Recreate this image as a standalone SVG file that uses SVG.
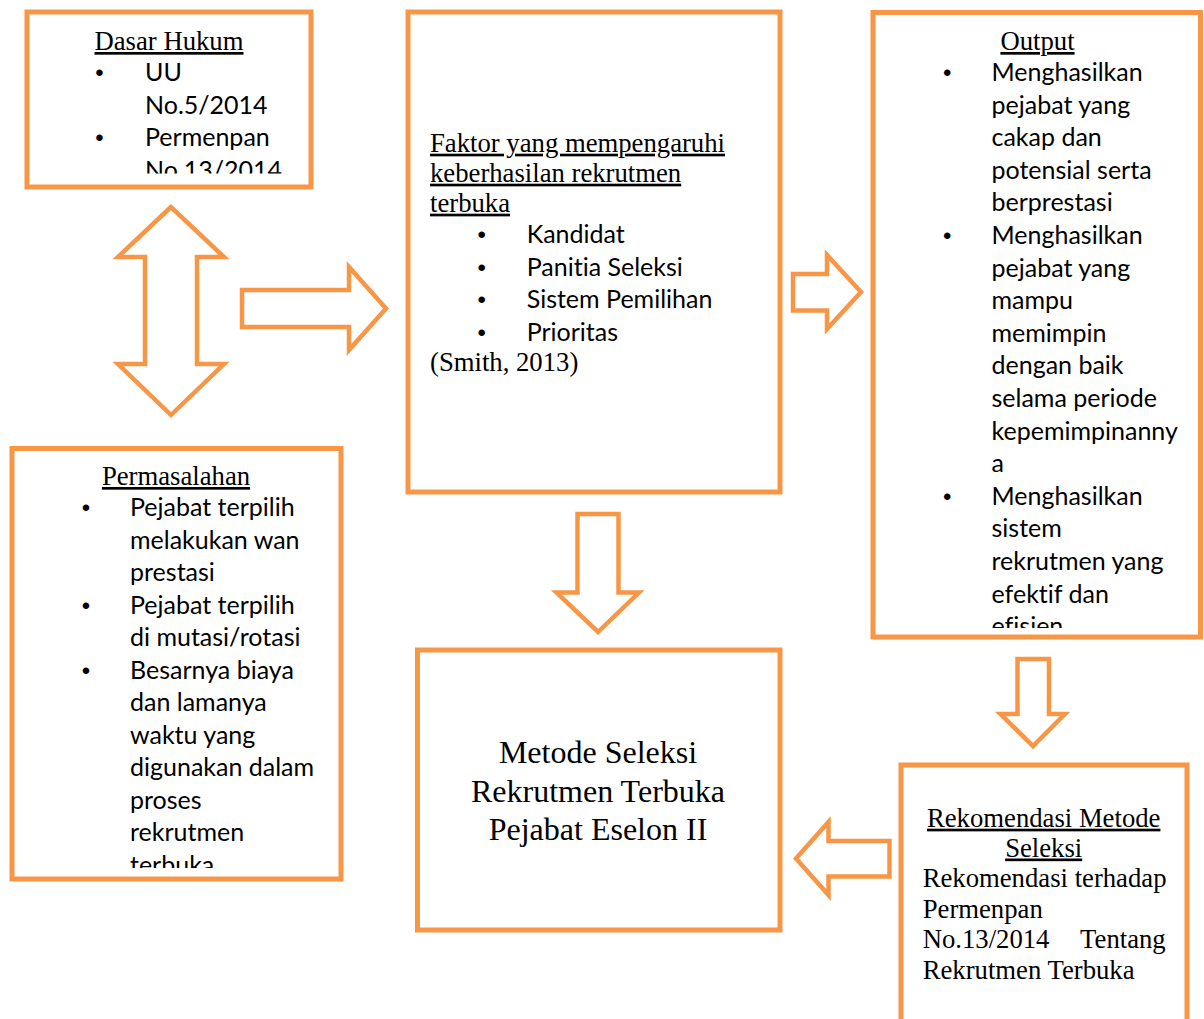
<svg xmlns="http://www.w3.org/2000/svg" width="1204" height="1019" viewBox="0 0 1204 1019">
  <style>
    .box { fill: #ffffff; stroke: #F79646; stroke-width: 5; }
    .arrow { fill: #ffffff; stroke: #F79646; stroke-width: 4.5; stroke-linejoin: miter; }
    .serif { font-family: "Liberation Serif", "Times New Roman", serif; font-size: 26.7px; fill: #000000; }
    .big { font-family: "Liberation Serif", "Times New Roman", serif; font-size: 32px; fill: #000000; }
    .sans { font-family: Lato, "Noto Sans", sans-serif; font-size: 25px; fill: #000000; font-variant-ligatures: none; font-feature-settings: "liga" 0, "clig" 0; }
    .dot { font-family: "Liberation Sans", Arial, sans-serif; font-size: 24px; fill: #000000; }
    .u { text-decoration: underline; }
    .mid { text-anchor: middle; }
    .end { text-anchor: end; }
  </style>
  <defs>
    <clipPath id="clip-dasar"><rect x="30" y="15" width="278" height="158.5"/></clipPath>
    <clipPath id="clip-output"><rect x="876" y="15" width="322" height="613"/></clipPath>
    <clipPath id="clip-masalah"><rect x="15" y="451" width="323" height="417"/></clipPath>
  </defs>

  <rect width="1204" height="1019" fill="#ffffff"/>

  <!-- block arrows between the boxes -->
  <g id="connectors">
    <polygon class="arrow" points="171,207 118,257 145,257 145,364 118,364 171,415 224,364 197,364 197,257 224,257"/>
    <polygon class="arrow" points="242,290 349,290 349,267 386,308.5 349,350 349,327 242,327"/>
    <polygon class="arrow" points="793,274 827,274 827,255 861,292 827,329 827,310.5 793,310.5"/>
    <polygon class="arrow" points="577.5,514 618.5,514 618.5,592.5 639,592.5 598,632 556.5,592.5 577.5,592.5"/>
    <polygon class="arrow" points="1017.5,659 1049,659 1049,714 1065,714 1033,746 1000.5,714 1017.5,714"/>
    <polygon class="arrow" points="889.5,841 828.5,841 828.5,822 796,858.5 828.5,895 828.5,876.5 889.5,876.5"/>
  </g>

  <!-- legal basis -->
  <g id="dasar-hukum">
    <rect class="box" x="27" y="12" width="284" height="175"/>
    <g clip-path="url(#clip-dasar)">
      <text class="serif u mid" x="169" y="50">Dasar Hukum</text>
      <text class="dot mid" x="99.5" y="81">•</text>
      <text class="sans" x="145" y="81">UU</text>
      <text class="sans" x="145" y="113.5">No.5/2014</text>
      <text class="dot mid" x="99.5" y="146">•</text>
      <text class="sans" x="145" y="146">Permenpan</text>
      <text class="sans" x="145" y="178.5">No.13/2014</text>
    </g>
  </g>

  <!-- success factors -->
  <g id="faktor">
    <rect class="box" x="408" y="12" width="372" height="480"/>
    <text class="serif u" x="430" y="151.7">Faktor yang mempengaruhi</text>
    <text class="serif u" x="430" y="181.7">keberhasilan rekrutmen</text>
    <text class="serif u" x="430" y="211.7">terbuka</text>
    <text class="dot mid" x="481.7" y="243.3">•</text>
    <text class="sans" x="526.7" y="243.3">Kandidat</text>
    <text class="dot mid" x="481.7" y="276">•</text>
    <text class="sans" x="526.7" y="276">Panitia Seleksi</text>
    <text class="dot mid" x="481.7" y="308.3">•</text>
    <text class="sans" x="526.7" y="308.3">Sistem Pemilihan</text>
    <text class="dot mid" x="481.7" y="340.8">•</text>
    <text class="sans" x="526.7" y="340.8">Prioritas</text>
    <text class="serif" x="430" y="370.7">(Smith, 2013)</text>
  </g>

  <!-- expected output -->
  <g id="output">
    <rect class="box" x="873" y="12.5" width="327.5" height="624.5"/>
    <g clip-path="url(#clip-output)">
      <text class="serif u mid" x="1037.5" y="50">Output</text>
      <text class="dot mid" x="947.3" y="81">•</text>
      <text class="sans" x="991.5" y="81">Menghasilkan</text>
      <text class="sans" x="991.5" y="113.6">pejabat yang</text>
      <text class="sans" x="991.5" y="146.2">cakap dan</text>
      <text class="sans" x="991.5" y="178.8">potensial serta</text>
      <text class="sans" x="991.5" y="211.4">berprestasi</text>
      <text class="dot mid" x="947.3" y="244">•</text>
      <text class="sans" x="991.5" y="244">Menghasilkan</text>
      <text class="sans" x="991.5" y="276.6">pejabat yang</text>
      <text class="sans" x="991.5" y="309.2">mampu</text>
      <text class="sans" x="991.5" y="341.8">memimpin</text>
      <text class="sans" x="991.5" y="374.4">dengan baik</text>
      <text class="sans" x="991.5" y="407">selama periode</text>
      <text class="sans" x="991.5" y="439.6">kepemimpinanny</text>
      <text class="sans" x="991.5" y="472.2">a</text>
      <text class="dot mid" x="947.3" y="504.8">•</text>
      <text class="sans" x="991.5" y="504.8">Menghasilkan</text>
      <text class="sans" x="991.5" y="537.4">sistem</text>
      <text class="sans" x="991.5" y="570">rekrutmen yang</text>
      <text class="sans" x="991.5" y="602.6">efektif dan</text>
      <text class="sans" x="991.5" y="635.2">efisien</text>
    </g>
  </g>

  <!-- problems -->
  <g id="permasalahan">
    <rect class="box" x="12" y="448.5" width="329" height="430.5"/>
    <g clip-path="url(#clip-masalah)">
      <text class="serif u mid" x="176" y="485">Permasalahan</text>
      <text class="dot mid" x="86" y="516">•</text>
      <text class="sans" x="130" y="516">Pejabat terpilih</text>
      <text class="sans" x="130" y="548.5">melakukan wan</text>
      <text class="sans" x="130" y="581">prestasi</text>
      <text class="dot mid" x="86" y="613.5">•</text>
      <text class="sans" x="130" y="613.5">Pejabat terpilih</text>
      <text class="sans" x="130" y="646">di mutasi/rotasi</text>
      <text class="dot mid" x="86" y="678.5">•</text>
      <text class="sans" x="130" y="678.5">Besarnya biaya</text>
      <text class="sans" x="130" y="711">dan lamanya</text>
      <text class="sans" x="130" y="743.5">waktu yang</text>
      <text class="sans" x="130" y="776">digunakan dalam</text>
      <text class="sans" x="130" y="808.5">proses</text>
      <text class="sans" x="130" y="841">rekrutmen</text>
      <text class="sans" x="130" y="873.5">terbuka</text>
    </g>
  </g>

  <!-- selection method -->
  <g id="metode">
    <rect class="box" x="417.5" y="650" width="362.5" height="280"/>
    <text class="big mid" x="598" y="763.3">Metode Seleksi</text>
    <text class="big mid" x="598" y="801.5">Rekrutmen Terbuka</text>
    <text class="big mid" x="598" y="839.5">Pejabat Eselon II</text>
  </g>

  <!-- recommendation -->
  <g id="rekomendasi">
    <rect class="box" x="901" y="765" width="286" height="300"/>
    <text class="serif u mid" x="1043.7" y="826.7">Rekomendasi Metode</text>
    <text class="serif u mid" x="1043.7" y="856.5">Seleksi</text>
    <text class="serif" x="922.7" y="887.3">Rekomendasi terhadap</text>
    <text class="serif" x="922.7" y="917.8">Permenpan</text>
    <text class="serif" x="922.7" y="948">No.13/2014</text>
    <text class="serif end" x="1165.7" y="948">Tentang</text>
    <text class="serif" x="922.7" y="978.5">Rekrutmen Terbuka</text>
  </g>
</svg>
